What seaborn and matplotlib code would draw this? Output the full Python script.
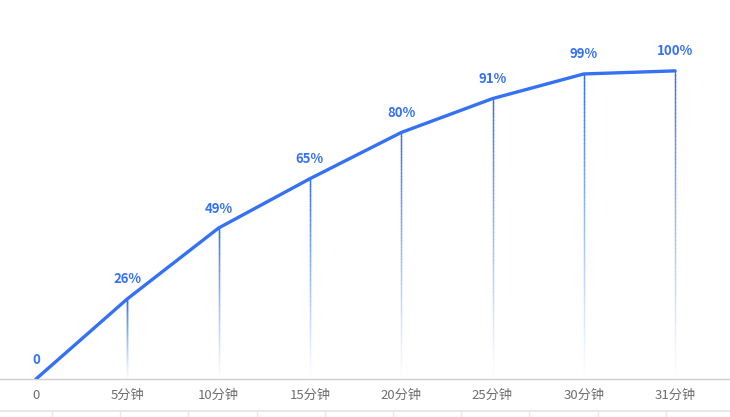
import numpy as np
import matplotlib
matplotlib.use("Agg")
import matplotlib.pyplot as plt
import seaborn as sns
from matplotlib.collections import LineCollection
from matplotlib.lines import Line2D

# data
categories = ["0", "5分钟", "10分钟", "15分钟", "20分钟", "25分钟", "30分钟", "31分钟"]
values = [0, 26, 49, 65, 80, 91, 99, 100]
point_labels = ["0", "26%", "49%", "65%", "80%", "91%", "99%", "100%"]

blue = "#3471f5"

sns.set_style("white")
plt.rcParams["font.family"] = ["Noto Sans CJK SC", "DejaVu Sans"]

fig = plt.figure(figsize=(7.3, 4.17), dpi=100)
ax = fig.add_axes([0, 38 / 417, 1, 379 / 417])

xs = np.arange(len(categories))

# fading drop lines from each point to the axis (blue blended into white)
base = np.array(matplotlib.colors.to_rgb(blue))
for x, v in zip(xs, values):
    if v == 0:
        continue
    n = 80
    ys = np.linspace(0, v, n + 1)
    segs = [[(x, ys[i]), (x, ys[i + 1])] for i in range(n)]
    t = np.linspace(0.0, 1.0, n) ** 1.1
    cols = [tuple(base * a + (1 - a)) for a in t]
    ax.add_collection(LineCollection(segs, colors=cols, linewidths=1.0,
                                     capstyle="projecting", zorder=1))

sns.lineplot(x=xs, y=values, ax=ax, color=blue, linewidth=2.4, zorder=3)

for x, v, lab in zip(xs, values, point_labels):
    ax.annotate(lab, (x, v), xytext=(0, 9), textcoords="offset points",
                ha="center", va="bottom", fontsize=9.5, fontweight="bold", color=blue)

ax.set_xlim(-36 / 91.3, (730 - 36) / 91.3)
ax.set_ylim(0, 123)
ax.set_xticks(xs)
ax.set_xticklabels(categories, fontsize=9.5, color="#6e6e6e")
ax.tick_params(axis="x", length=0, pad=7)
ax.set_yticks([])
for side in ["top", "right", "left"]:
    ax.spines[side].set_visible(False)
ax.spines["bottom"].set_color("#cfcfcf")
ax.spines["bottom"].set_linewidth(1)

# partial widget border at the bottom edge
fig.add_artist(Line2D([0, 1], [6 / 417, 6 / 417], transform=fig.transFigure,
                      color="#e3e3e3", linewidth=1.2))
for px in np.arange(52, 730, 68.2):
    fig.add_artist(Line2D([px / 730, px / 730], [0, 6 / 417], transform=fig.transFigure,
                          color="#e8e8e8", linewidth=1))

fig.savefig("out.png", dpi=100)
